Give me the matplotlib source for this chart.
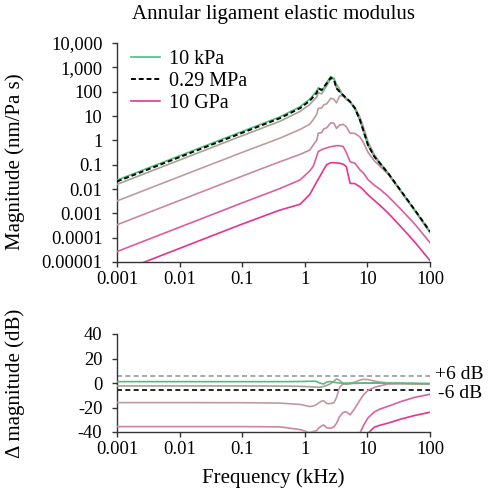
import numpy as np
import matplotlib
matplotlib.use("Agg")
import matplotlib.pyplot as plt
from matplotlib.lines import Line2D

plt.rcParams['font.family'] = ['Liberation Serif', 'DejaVu Serif']

# ---- data (frequency in kHz) ----
freq = [0.001, 0.01, 0.1, 0.4, 0.84, 1.2, 1.37, 1.55, 1.64, 1.86, 2.0, 2.24, 2.6,
        2.93, 3.2, 3.6, 4.1, 4.6, 5.3, 6.3, 7.6, 8.6, 10.2, 13, 15.8, 21.5, 35, 57, 100]

# reference magnitude (0.29 MPa), nm/Pa s
ref_mag = [0.0204, 0.204, 2.04, 8.1, 21, 42, 62, 89, 138, 117, 151, 219, 372,
           302, 138, 100, 72, 54, 39, 21, 6.9, 2.6, 0.65, 0.21, 0.115, 0.044, 0.0078, 0.0014, 0.00018]

# difference from the 0.29 MPa response, dB
delta_10kPa = [1.1, 1.1, 1.1, 1.1, 1.2, 1.4, 1.5, 1.3, 0.5, -0.5, -0.8, 0.8, 1.2,
               0.6, 0.3, 0.0, -0.1, -0.1, -0.1, -0.1, -0.1, -0.1, -0.1, -0.1, -0.1, -0.2, -0.2, -0.3, -0.3]
delta_2 = [-2.4, -2.4, -2.4, -2.5, -2.7, -3.0, -3.2, -3.4, -3.6, -3.2, -2.8, -2.0, -0.5,
           1.5, 3.3, 2.2, -0.8, -1.0, -0.6, -0.3, -0.2, -0.1, 0.0, 0.0, 0.0, -0.2, -0.4, -0.6, -0.8]
delta_3 = [-16.0, -16.0, -16.1, -16.4, -17.5, -19.2, -18.8, -17.5, -16.5, -14.8, -14.4, -16.8, -16.8,
           -16.0, -12.0, -3.5, -0.5, -0.8, -0.5, 0.8, 2.4, 3.0, 2.8, 1.5, 0.8, 0.0, -0.3, -0.5, -0.8]
delta_4 = [-35.6, -35.6, -35.6, -35.8, -38.0, -40.5, -39.5, -39.0, -37.0, -35.0, -34.3, -36.5, -37.0,
           -35.7, -33.0, -27.5, -24.0, -23.5, -26.0, -20.7, -14.0, -10.0, -6.0, -3.5, -2.4, -0.8, -0.5, -0.6, -0.8]
delta_5 = [-57.6, -57.6, -57.6, -57.8, -59.0, -57.6, -57.0, -52.0, -52.0, -49.0, -50.6, -53.0, -56.6,
           -54.4, -47.2, -44.4, -42.2, -44.6, -49.4, -45.2, -41.0, -35.0, -28.5, -23.5, -21.3, -19.0, -15.0, -11.7, -9.2]
delta_10GPa = [-75.0, -75.0, -75.0, -75.5, -79.0, -77.0, -75.0, -73.0, -74.8, -68.4, -67.6, -66.8, -69.8,
               -68.0, -61.4, -58.8, -56.8, -56.2, -67.2, -62.0, -55.0, -49.0, -41.0, -36.0, -34.5, -32.7, -29.3, -26.5, -23.9]

series_deltas = [delta_10kPa, delta_2, delta_3, delta_4, delta_5, delta_10GPa]
series_colors = ['#4cc17f', '#a3a394', '#bf9ba1', '#cd86a3', '#dc5d9f', '#e6338e']

top_yticks = [1e4, 1e3, 1e2, 1e1, 1, 0.1, 0.01, 0.001, 0.0001, 0.00001]
top_ylabels = ['10,000', '1,000', '100', '10', '1', '0.1', '0.01', '0.001', '0.0001', '0.00001']
xticks = [0.001, 0.01, 0.1, 1, 10, 100]
xlabels = ['0.001', '0.01', '0.1', '1', '10', '100']
bot_yticks = [40, 20, 0, -20, -40]
bot_ylabels = ['40', '20', '0', '-20', '-40']

# ---- figure ----
fig = plt.figure(figsize=(4.9, 4.91), dpi=100)
W, H = 490, 491
ax1 = fig.add_axes([117 / W, 1 - 262 / H, 313 / W, 219 / H])
ax2 = fig.add_axes([117 / W, 1 - 432 / H, 313 / W, 98 / H])

f = np.array(freq)
ref = np.array(ref_mag)
for i in range(len(series_deltas) - 1, -1, -1):
    d = np.array(series_deltas[i])
    lw = 1.2
    ax1.plot(f, ref * 10 ** (d / 20.0), color=series_colors[i], lw=lw, zorder=3 + (6 - i) * 0.1)
    ax2.plot(f, d, color=series_colors[i], lw=lw, zorder=3 + (6 - i) * 0.1)
ax1.plot(f, ref, color='black', lw=1.4, ls=(0, (2.5, 1.5)), zorder=5)

ax2.axhline(6, color='#999999', lw=1.2, ls=(0, (3, 2)), zorder=2)
ax2.axhline(-6, color='black', lw=1.2, ls=(0, (3, 2)), zorder=2)
ax2.text(1.015, 7.3, '+6 dB', transform=ax2.get_yaxis_transform(), fontsize=14,
         va='center', ha='left', clip_on=False)
ax2.text(1.027, -8.3, '-6 dB', transform=ax2.get_yaxis_transform(), fontsize=14,
         va='center', ha='left', clip_on=False)

for ax in (ax1, ax2):
    ax.set_xscale('log')
    ax.set_xlim(0.001, 100)
    ax.set_xticks(xticks, xlabels)
    ax.minorticks_off()
    ax.spines['top'].set_visible(False)
    ax.spines['right'].set_visible(False)
    for s in ('left', 'bottom'):
        ax.spines[s].set_color('#333333')
        ax.spines[s].set_linewidth(1.0)
    ax.tick_params(axis='both', direction='out', length=3.5, width=1.0, color='#333333',
                   labelsize=13.3)
    ax.tick_params(axis='y', pad=7)
    ax.tick_params(axis='x', pad=3)

ax1.set_yscale('log')
ax1.set_ylim(1e-5, 1e4)
ax1.set_yticks(top_yticks, top_ylabels)
ax1.minorticks_off()

ax2.set_ylim(-40, 40)
ax2.set_yticks(bot_yticks, bot_ylabels)

ax1.set_ylabel('Magnitude (nm/Pa s)', fontsize=15)
ax1.yaxis.set_label_coords(-0.294, 0.46)
ax2.set_ylabel('Δ magnitude (dB)', fontsize=15)
ax2.yaxis.set_label_coords(-0.294, 0.5)
ax2.set_xlabel('Frequency (kHz)', fontsize=15)
ax2.xaxis.label.set_va('center')
ax2.xaxis.set_label_coords(0.5, -0.47)

fig.text(273 / W, 1 - 15 / H, 'Annular ligament elastic modulus', fontsize=15,
         ha='center', va='center')

handles = [Line2D([], [], color=series_colors[0], lw=1.2),
           Line2D([], [], color='black', lw=1.4, ls=(0, (2.5, 1.5))),
           Line2D([], [], color=series_colors[-1], lw=1.2)]
ax1.legend(handles, ['10 kPa', '0.29 MPa', '10 GPa'], loc='upper left', frameon=False,
           fontsize=14.5, handlelength=1.45, handletextpad=0.45, labelspacing=0.14,
           borderaxespad=0.0, borderpad=0.0, bbox_to_anchor=(0.045, 0.968))

fig.savefig('out.png', dpi=100)
